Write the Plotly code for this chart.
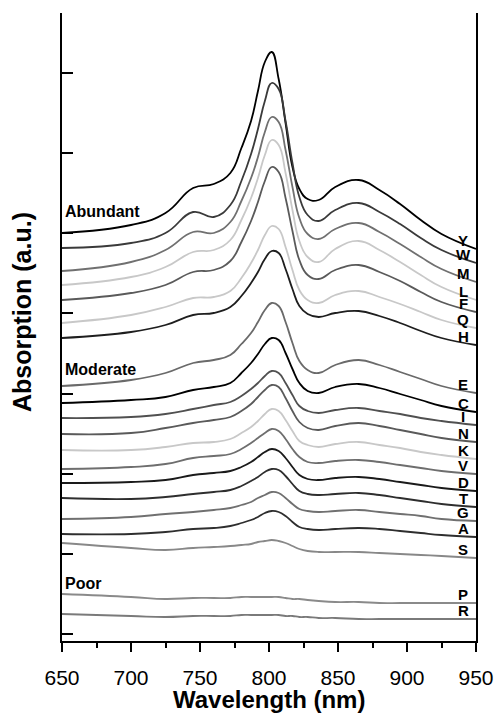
import plotly.graph_objects as go

# ---------------- data ----------------
WAVELENGTH = [650, 700, 725, 745, 760, 772, 780, 787, 792, 797, 802, 807,
              812, 817, 822, 828, 836, 848, 865, 880, 895, 910, 925, 950]

SAMPLES = ["Y", "W", "M", "L", "F", "Q", "H", "E", "C", "I", "N", "K", "V", "D", "T", "G", "A", "S", "P", "R"]

# stacked (offset) absorption spectra, arbitrary units
ABS_Y = [408, 416, 428, 453, 457, 468, 493, 520, 550, 579, 589, 562, 518, 474, 452, 442, 441, 454, 461, 451, 437, 421, 407, 392]
ABS_W = [393, 398, 408, 429, 424, 436, 460, 487, 512, 540, 558, 552, 520, 478, 444, 426, 420, 431, 438, 429, 417, 403, 391, 378]
ABS_M = [370, 379, 391, 409, 408, 419, 440, 463, 484, 509, 524, 519, 491, 454, 423, 407, 402, 412, 418, 409, 397, 384, 372, 359]
ABS_L = [356, 364, 374, 389, 391, 401, 421, 443, 463, 486, 501, 496, 468, 431, 400, 384, 379, 392, 400, 391, 379, 366, 354, 341]
ABS_F = [341, 348, 356, 369, 371, 380, 399, 420, 439, 460, 474, 469, 443, 410, 381, 366, 362, 371, 376, 369, 360, 349, 339, 329]
ABS_Q = [318, 326, 334, 343, 344, 350, 363, 378, 391, 406, 415, 412, 394, 371, 351, 341, 338, 346, 350, 344, 337, 329, 321, 313]
ABS_H = [303, 309, 316, 326, 328, 334, 345, 358, 369, 382, 390, 388, 372, 352, 335, 327, 324, 328, 330, 325, 318, 310, 303, 296]
ABS_E = [255, 261, 268, 278, 281, 286, 297, 308, 319, 331, 338, 335, 319, 298, 280, 271, 268, 276, 281, 276, 269, 262, 255, 248]
ABS_C = [238, 241, 244, 251, 254, 258, 268, 278, 287, 297, 303, 301, 288, 272, 258, 250, 248, 254, 257, 253, 247, 241, 235, 229]
ABS_I = [223, 224, 227, 232, 236, 239, 245, 252, 258, 265, 270, 268, 258, 246, 235, 230, 228, 231, 233, 230, 227, 223, 220, 216]
ABS_N = [207, 208, 213, 218, 221, 224, 230, 237, 244, 251, 256, 254, 243, 230, 219, 213, 211, 215, 218, 215, 211, 207, 203, 199]
ABS_K = [191, 191, 194, 198, 199, 202, 208, 214, 220, 227, 232, 230, 221, 210, 200, 196, 194, 197, 199, 196, 193, 189, 186, 182]
ABS_V = [172, 174, 177, 183, 185, 187, 192, 198, 203, 208, 212, 210, 202, 192, 184, 179, 178, 180, 181, 179, 176, 173, 170, 167]
ABS_D = [158, 159, 161, 166, 168, 170, 174, 179, 184, 189, 192, 190, 183, 174, 166, 162, 161, 163, 164, 162, 159, 156, 153, 150]
ABS_T = [143, 142, 144, 147, 149, 151, 155, 160, 164, 169, 172, 171, 165, 157, 150, 147, 146, 147, 148, 146, 143, 140, 137, 134]
ABS_G = [122, 124, 127, 129, 131, 133, 136, 139, 143, 146, 149, 148, 143, 137, 132, 130, 129, 130, 131, 129, 127, 125, 122, 120]
ABS_A = [107, 107, 109, 112, 113, 115, 118, 121, 124, 128, 130, 129, 125, 119, 114, 112, 111, 112, 113, 112, 110, 108, 106, 104]
ABS_S = [98, 93, 91, 93, 94, 95, 96, 97, 99, 100, 101, 100, 98, 95, 92, 90, 89, 89, 89, 88, 87, 86, 85, 83]
ABS_P = [47, 44, 42, 43, 43, 43, 44, 44, 44, 44, 44, 44, 43, 42, 42, 41, 40, 39, 39, 38, 38, 38, 38, 38]
ABS_R = [27, 25, 24, 25, 25, 25, 26, 26, 26, 26, 26, 26, 25, 25, 24, 24, 23, 23, 22, 22, 22, 22, 22, 22]

SPECTRA = [ABS_Y, ABS_W, ABS_M, ABS_L, ABS_F, ABS_Q, ABS_H, ABS_E, ABS_C, ABS_I,
           ABS_N, ABS_K, ABS_V, ABS_D, ABS_T, ABS_G, ABS_A, ABS_S, ABS_P, ABS_R]

GROUPS = ["Abundant", "Moderate", "Poor"]
GROUP_LEVELS = [430, 272, 58]
X_TICKS = [650, 700, 750, 800, 850, 900, 950]

for s in SPECTRA:
    assert len(s) == len(WAVELENGTH)

# ---------------- styles ----------------
COLORS = ["#000000", "#3a3a3a", "#707070", "#c8c8c8", "#5a5a5a", "#c8c8c8", "#1e1e1e",
          "#6a6a6a", "#000000", "#505050", "#5a5a5a", "#c8c8c8", "#6e6e6e", "#1a1a1a",
          "#2e2e2e", "#707070", "#2e2e2e", "#888888", "#8a8a8a", "#7a7a7a"]

FONT = "Arial, Liberation Sans, Helvetica, sans-serif"

fig = go.Figure()
for name, vals, col in zip(SAMPLES, SPECTRA, COLORS):
    fig.add_trace(go.Scatter(
        x=WAVELENGTH, y=vals, mode="lines", name=name,
        line=dict(color=col, width=1.8, shape="spline", smoothing=1.3),
        showlegend=False, hoverinfo="skip"))

# sample labels at the right end of each curve
for name, vals in zip(SAMPLES, SPECTRA):
    fig.add_annotation(x=940.6, y=vals[-1], xref="x", yref="y", text=name,
                       showarrow=False, yshift=9, xanchor="center", yanchor="middle",
                       font=dict(family=FONT, size=15, color="black", weight="bold"))

# group labels
for txt, yp in zip(GROUPS, GROUP_LEVELS):
    fig.add_annotation(x=651, y=yp, xref="x", yref="y", text=txt, showarrow=False,
                       xanchor="left", yanchor="middle",
                       font=dict(family=FONT, size=16, color="black", weight="bold"))

# axis titles
fig.add_annotation(x=0.5, y=-(699 - 641) / 628, xref="paper", yref="paper",
                   text="Wavelength (nm)", showarrow=False, xanchor="center", yanchor="middle",
                   font=dict(family=FONT, size=24, color="black", weight="bold"))
fig.add_annotation(x=0, y=(641 - 312) / 628, xref="paper", yref="paper",
                   text="Absorption (a.u.)", showarrow=False, textangle=-90,
                   xanchor="center", yanchor="middle", xshift=-40,
                   font=dict(family=FONT, size=25, color="black", weight="bold"))

fig.update_layout(
    width=495, height=715,
    margin=dict(l=62, r=19, t=13, b=74, autoexpand=False),
    paper_bgcolor="white", plot_bgcolor="white",
    xaxis=dict(range=[650, 950], tickvals=X_TICKS, ticks="outside", ticklen=9, tickwidth=2,
               tickcolor="black", showline=True, linewidth=2, linecolor="black",
               showgrid=False, zeroline=False, automargin=False,
               minor=dict(dtick=25, tick0=650, ticks="outside", ticklen=5, tickwidth=2, tickcolor="black"),
               tickfont=dict(family=FONT, size=21, color="black"), ticklabelstandoff=8),
    xaxis2=dict(range=[650, 950], overlaying="x", side="top", anchor="y",
                tickvals=X_TICKS, ticks="inside", ticklen=10, tickwidth=2, tickcolor="black",
                showticklabels=False, showline=True, linewidth=2, linecolor="black",
                showgrid=False, zeroline=False, automargin=False,
                minor=dict(dtick=25, tick0=650, ticks="inside", ticklen=6, tickwidth=2, tickcolor="black")),
    yaxis=dict(range=[0, 628], tick0=7, dtick=80.14, ticks="inside", ticklen=11, tickwidth=2,
               tickcolor="black", showticklabels=False, showline=True, linewidth=2,
               linecolor="black", mirror=True, showgrid=False, zeroline=False, automargin=False),
)

fig.write_html("out.html")
